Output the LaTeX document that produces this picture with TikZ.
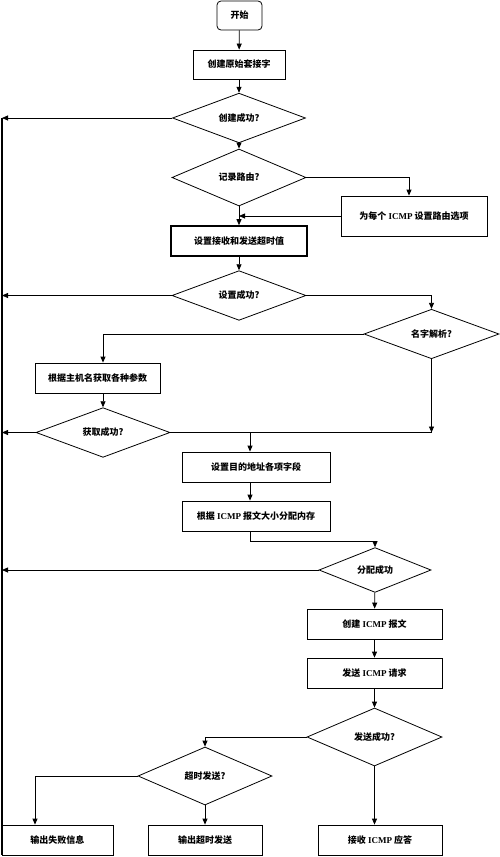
\documentclass[tikz,border=0pt]{standalone}
\usepackage{fontspec}
\setmainfont{Noto Sans CJK SC}
\newfontfamily\latfont{Liberation Serif}
\newcommand\lat[1]{{\latfont\bfseries #1}}
\usetikzlibrary{shapes.geometric,arrows.meta}

\begin{document}
\begin{tikzpicture}[x=1pt,y=-1pt,
  font=\fontsize{9}{10}\selectfont\bfseries,
  >={Triangle[length=6pt,width=5pt]},
  line width=0.8pt,
  box/.style={draw,rectangle,minimum height=30pt,inner sep=1pt},
  cond/.style={draw,diamond,inner sep=0pt},
  link/.style={->}]
\useasboundingbox (0,0) rectangle (500,857);
% boxes and decisions
\node[box,rounded corners=4pt,minimum width=45pt,minimum height=29pt] (start) at (239.5,15.5) {开始};
\node[box,minimum width=92pt,minimum height=29pt] (sock) at (239,64.5) {创建原始套接字};
\node[cond,minimum width=133pt,minimum height=38pt] (sockok) at (239,118) {创建成功?};
\node[cond,minimum width=134pt,minimum height=57pt] (route) at (239,177.5) {记录路由?};
\node[box,minimum width=146pt,minimum height=40pt] (opt) at (414,216) {为每个 \lat{ICMP} 设置路由选项};
\node[box,line width=1.6pt,minimum width=136pt] (tmo) at (239,241) {设置接收和发送超时值};
\node[cond,minimum width=134pt,minimum height=39pt] (tmook) at (239,295.5) {设置成功?};
\node[cond,minimum width=135pt,minimum height=38pt] (name) at (431.5,334) {名字解析?};
\node[box,minimum width=125pt] (param) at (97.5,378) {根据主机名获取各种参数};
\node[cond,minimum width=134pt,minimum height=40pt] (paramok) at (103,432.5) {获取成功?};
\node[box,minimum width=148pt] (dest) at (256,467) {设置目的地址各项字段};
\node[box,minimum width=148pt] (mem) at (256,516) {根据 \lat{ICMP} 报文大小分配内存};
\node[cond,minimum width=112pt,minimum height=38pt] (memok) at (375,570) {分配成功};
\node[box,minimum width=135pt] (pkt) at (374.5,624) {创建 \lat{ICMP} 报文};
\node[box,minimum width=135pt] (send) at (374.5,673) {发送 \lat{ICMP} 请求};
\node[cond,minimum width=135pt,minimum height=58pt] (sendok) at (374.5,737) {发送成功?};
\node[cond,minimum width=134pt,minimum height=58pt] (late) at (205,776) {超时发送?};
\node[box,minimum width=111pt] (fail) at (57.5,840) {输出失败信息};
\node[box,minimum width=114pt] (latebox) at (205,840) {输出超时发送};
\node[box,minimum width=124pt] (recv) at (380,840) {接收 \lat{ICMP} 应答};
\coordinate (rail) at (2,118);
\coordinate (col) at (250,0);
% main flow
\draw[link] (start) -- (sock);
\draw[link] (sock) -- (sockok);
\draw[link] (sockok) -- (route);
\draw[link] (route) -- (tmo);
\draw[link] (route.east) -| ([xshift=-5pt]opt.north);
\draw[link] (opt.west) -- (opt.west -| tmo.north);
\draw[link] (tmo) -- (tmook);
\draw[link] (tmook.east) -| (name.north);
\draw[link] (name.west) -| (paramok |- param.north);
\draw[link] (paramok |- param.south) -- (paramok);
\draw (paramok.east) -- (paramok.east -| name) coordinate (join);
\draw[link] (name) -- (join);
\draw[link] (col |- paramok.east) -- (col |- dest.north);
\draw[link] (col |- dest.south) -- (col |- mem.north);
\draw[link] (col |- mem.south) -- ++(0,10) -| (memok.north);
\draw[link] (memok) -- (pkt);
\draw[link] (pkt) -- (send);
\draw[link] (send) -- (sendok);
\draw[link] (sendok.west) -| (late.north);
\draw[link] (late.west) -| ([xshift=-22.5pt]fail.north);
\draw[link] (late) -- (latebox);
\draw[link] (sendok) -- (sendok |- recv.north);
% failure rail
\draw[line width=1.6pt] (rail) -- (rail |- fail.south);
\draw[link] (sockok.west) -- (rail |- sockok.west);
\draw[link] (tmook.west) -- (rail |- tmook.west);
\draw[link] (paramok.west) -- (rail |- paramok.west);
\draw[link] (memok.west) -- (rail |- memok.west);
\end{tikzpicture}
\end{document}
